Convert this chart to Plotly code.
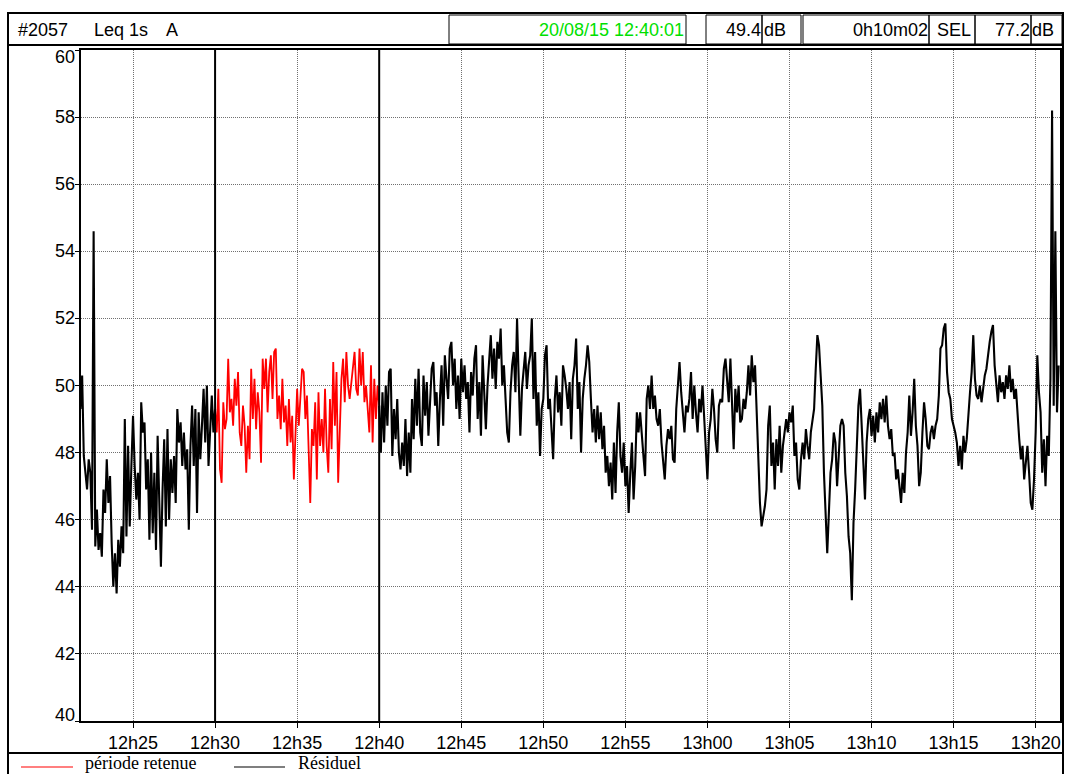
import pandas as pd
import plotly.graph_objects as go

W, H = 1065, 774

# Leq 1s A, one reading every 6 s
residuel_avant = [  # 12:21:48 -> 12:29:54
    49.3, 50.3, 47.9, 47.3, 46.9, 47.8, 47.4, 45.7, 54.6, 45.2,
    46.3, 45.1, 45.6, 44.9, 46.9, 46.2, 47.8, 46.5, 47.3, 45.3,
    44.0, 45.0, 43.8, 45.4, 44.6, 45.8, 45.0, 49.0, 45.5, 48.2,
    45.8, 47.6, 49.1, 47.6, 46.6, 47.4, 46.0, 49.5, 48.6, 48.9,
    46.9, 47.8, 45.4, 48.0, 45.6, 47.4, 45.1, 48.5, 46.2, 44.6,
    46.9, 48.4, 45.8, 48.7, 46.0, 47.8, 46.8, 47.9, 46.5, 49.3,
    48.3, 48.9, 47.6, 48.6, 47.5, 48.1, 45.7, 48.2, 49.4, 47.6,
    49.3, 46.2, 49.2, 47.8, 48.8, 49.9, 48.3, 50.0, 47.6, 48.7,
    49.7, 48.6,
]
periode_retenue = [  # 12:30:00 -> 12:40:00
    49.3, 48.6, 49.9, 47.5, 47.1, 49.5, 48.7, 49.0, 50.8, 49.2,
    49.6, 48.8, 50.2, 49.4, 50.4, 48.6, 48.2, 49.4, 48.8, 47.4,
    48.8, 47.8, 50.5, 49.0, 50.2, 48.7, 49.8, 49.2, 47.7, 50.8,
    49.9, 50.8, 49.2, 50.4, 50.9, 49.6, 51.0, 51.1, 49.0, 49.7,
    48.7, 50.2, 48.9, 49.4, 48.2, 49.6, 48.3, 49.1, 47.2, 48.5,
    49.9, 48.8, 49.9, 50.5, 50.4, 49.0, 49.7, 48.0, 46.5, 48.7,
    48.2, 49.5, 47.2, 49.8, 48.2, 49.0, 48.0, 49.9, 48.2, 47.4,
    49.6, 48.1, 50.7, 48.8, 50.4, 47.1, 49.1, 50.2, 50.8, 49.5,
    51.0, 50.0, 49.6, 50.1, 50.4, 51.0, 49.9, 49.7, 51.1, 50.0,
    51.0, 49.5, 50.0, 49.2, 48.6, 50.6, 48.3, 50.2, 49.0, 50.0,
    49.4,
]
residuel_apres = [  # 12:40:06 -> 13:21:24
    48.0, 49.8, 48.3, 50.0, 48.8, 50.4, 50.5, 47.9, 49.3, 48.4,
    49.6, 48.0, 47.5, 48.3, 47.6, 49.0, 47.3, 48.6,
    47.4, 49.6, 48.4, 50.2, 48.8, 50.5, 48.6, 48.2, 50.3, 49.1,
    50.1, 48.5, 49.6, 50.5, 50.7, 49.4, 49.8, 48.2, 49.6, 50.6,
    48.8, 50.9, 50.2, 49.6, 51.1, 51.3, 50.0, 50.8, 49.3, 50.3,
    49.0, 50.8, 49.8, 50.6, 49.6, 50.1, 48.6, 50.4, 49.7, 50.8,
    51.2, 49.0, 50.1, 48.5, 50.9, 49.6, 48.7, 50.0, 50.8, 51.5,
    50.2, 51.1, 49.9, 51.3, 50.8, 51.7, 50.0, 50.6, 49.6, 48.6,
    48.3, 49.8, 50.6, 51.0, 49.8, 52.0, 50.2, 48.5, 49.9, 50.6,
    51.0, 49.9, 50.6, 50.9, 52.0, 49.6, 51.0, 48.8, 49.8, 47.9,
    49.3, 49.6, 50.9, 51.2, 49.3, 49.6, 48.5, 47.8, 49.6, 50.3,
    49.2, 49.8, 48.8, 50.6, 50.3, 49.9, 49.3, 50.1, 48.4, 50.2,
    50.6, 51.4, 49.3, 50.1, 48.0, 49.6, 50.2, 50.6, 51.2, 50.7,
    49.6, 48.6, 49.3, 48.3, 49.4, 48.4, 49.2, 48.1, 48.8, 47.4,
    47.9, 47.0, 47.7, 46.6, 48.3, 46.8, 48.6, 49.5, 47.9, 47.4,
    48.3, 47.0, 47.6, 46.2, 47.4, 48.3, 46.6, 47.6, 49.2, 48.6,
    49.2, 48.4, 47.9, 47.3, 49.6, 50.0, 49.3, 50.3, 49.3, 49.7,
    49.0, 48.8, 49.3, 48.3, 47.8, 47.2, 48.2, 48.7, 48.4, 48.8,
    47.8, 47.7, 49.3, 50.1, 50.7, 49.8, 49.3, 48.6, 49.4, 49.2,
    49.6, 50.4, 49.0, 50.0, 49.2, 48.6, 49.6, 49.2, 50.0, 49.1,
    48.4, 47.2, 48.6, 49.0, 49.9, 49.3, 48.4, 48.0, 49.4, 49.6,
    49.5, 50.5, 50.8, 50.2,
    49.5, 50.8, 49.6, 48.1, 49.9, 49.2, 50.0, 48.9, 49.0, 49.6,
    49.3, 49.8, 50.6, 49.7, 50.9, 50.1, 50.6, 49.0, 47.8, 46.5,
    45.8, 46.1, 46.4, 46.9, 48.8, 49.4, 47.6, 48.3, 46.9, 48.4,
    47.6, 48.8, 47.4, 48.2, 48.6, 49.0, 48.6, 49.2, 48.9, 49.4,
    47.9, 48.3, 47.2, 46.9, 47.8, 48.3, 47.8, 48.7, 48.2, 47.8,
    48.6, 49.0, 49.3, 50.5, 51.5, 51.2, 50.3, 49.4, 47.4, 46.4,
    45.0, 46.2, 47.4, 47.8, 48.6, 48.3, 47.0, 47.9, 48.8, 49.0,
    48.8, 47.4, 46.7, 45.5, 45.0, 43.6, 45.9, 46.9, 48.2, 49.4,
    49.9, 48.8, 47.9, 46.6, 48.3, 49.0, 49.3, 48.5, 49.1, 48.3,
    49.2, 48.6, 49.5, 49.0, 49.6, 48.9, 49.7, 48.8, 48.4, 48.7,
    47.9, 48.0, 47.2, 47.5, 47.0, 46.5, 47.4, 46.8, 48.0, 48.6,
    49.7, 48.5, 49.2, 50.2, 48.8, 48.2, 47.0, 47.4, 48.6, 49.5,
    49.0, 48.2, 48.1, 48.6, 48.8, 48.4, 48.8, 49.0, 49.7, 51.1,
    51.2, 51.7, 51.85, 50.4, 49.8, 49.6, 49.0, 48.8, 48.6, 48.3,
    47.6, 48.2, 47.5, 48.5, 48.0, 48.4, 49.2, 49.8, 50.4, 51.5,
    50.2, 49.7, 49.6, 50.0, 49.5, 50.0, 50.3, 50.5, 51.0, 51.3,
    51.6, 51.8, 50.6, 49.9, 49.5, 50.3, 49.8, 50.1, 49.6, 50.3,
    49.9, 50.6, 49.8, 50.2, 49.6, 49.9, 49.0, 48.4, 47.8, 48.2,
    47.2, 47.8, 48.2, 47.4, 46.5, 46.3, 47.2,
    48.6, 50.9, 49.8, 49.2, 47.4, 48.4, 47.0, 48.5, 47.9, 50.2,
    58.2, 49.4, 54.6, 49.2, 50.6,
]

tick_labels = ["12h25", "12h30", "12h35", "12h40", "12h45", "12h50",
               "12h55", "13h00", "13h05", "13h10", "13h15", "13h20"]
y_ticks = [40, 42, 44, 46, 48, 50, 52, 54, 56, 58, 60]
marqueurs = ["12:30:00", "12:40:00"]

jour = "2015-08-20 "
t_avant = pd.date_range(jour + "12:21:48", periods=len(residuel_avant), freq="6s")
t_ret = pd.date_range(jour + "12:30:00", periods=len(periode_retenue), freq="6s")
t_apres = pd.date_range(jour + "12:40:06", periods=len(residuel_apres), freq="6s")
tick_vals = pd.date_range(jour + "12:25:00", periods=len(tick_labels), freq="5min")

fig = go.Figure()
fig.add_trace(go.Scatter(x=list(t_avant) + [t_ret[0]], y=residuel_avant + [periode_retenue[0]],
                         mode="lines", line=dict(color="black", width=2.1), name="Résiduel"))
fig.add_trace(go.Scatter(x=[t_ret[-1]] + list(t_apres), y=[periode_retenue[-1]] + residuel_apres,
                         mode="lines", line=dict(color="black", width=2.1), showlegend=False))
fig.add_trace(go.Scatter(x=t_ret, y=periode_retenue, mode="lines",
                         line=dict(color="#ff0000", width=1.8), name="période retenue"))


def fx(x):
    return x / W


def fy(y):
    return 1 - y / H


shapes = []
for m in marqueurs:
    shapes.append(dict(type="line", xref="x", yref="y domain", x0=jour + m, x1=jour + m,
                       y0=0, y1=1, line=dict(color="black", width=2)))


def rect(x0, y0, x1, y1, w=1):
    shapes.append(dict(type="rect", xref="paper", yref="paper", x0=fx(x0), x1=fx(x1),
                       y0=fy(y1), y1=fy(y0), line=dict(color="black", width=w)))


def hline(x0, x1, y, w=1):
    shapes.append(dict(type="line", xref="paper", yref="paper", x0=fx(x0), x1=fx(x1),
                       y0=fy(y), y1=fy(y), line=dict(color="black", width=w)))


def vline(x, y0, y1, w=1):
    shapes.append(dict(type="line", xref="paper", yref="paper", x0=fx(x), x1=fx(x),
                       y0=fy(y0), y1=fy(y1), line=dict(color="black", width=w)))


# cadre
rect(8, 13, 1063, 45, 2)
for a, b in [(449, 686), (706, 762), (762, 801), (803, 929), (929, 975), (975, 1031), (1031, 1062)]:
    rect(a, 15, b, 44)
vline(8, 45, 780, 2)
vline(1063, 45, 780, 2)
hline(8, 1063, 753, 2)
# légende
shapes.append(dict(type="line", xref="paper", yref="paper", x0=fx(21), x1=fx(73),
                   y0=fy(767), y1=fy(767), line=dict(color="#ff0000", width=1.2)))
shapes.append(dict(type="line", xref="paper", yref="paper", x0=fx(234), x1=fx(285),
                   y0=fy(767), y1=fy(767), line=dict(color="black", width=1.2)))

sans = "Liberation Sans, Arial, sans-serif"
serif = "Liberation Serif, Times New Roman, serif"
ann = []


def texte(s, x, y, anchor="left", color="black", font=sans, size=18):
    ann.append(dict(text=s, x=fx(x), y=fy(y), xref="paper", yref="paper", showarrow=False,
                    xanchor=anchor, yanchor="middle", font=dict(family=font, size=size, color=color)))


texte("#2057", 16, 30)
texte("Leq 1s", 92, 30)
texte("A", 164, 30)
texte("20/08/15 12:40:01", 686, 30, "right", "#00e000")
texte("49.4", 763, 30, "right")
texte("dB", 762, 30)
texte("0h10m02", 930, 30, "right")
texte("SEL", 935, 30)
texte("77.2", 1032, 30, "right")
texte("dB", 1030, 30)
texte("période retenue", 83, 763, font=serif)
texte("Résiduel", 296, 763, font=serif)

for v in y_ticks:
    shift = -7 if v == 60 else (6 if v == 40 else 0)
    ann.append(dict(text=str(v), x=fx(77), y=v, xref="paper", yref="y", showarrow=False,
                    xanchor="right", yanchor="middle", yshift=shift,
                    font=dict(family=sans, size=18, color="black")))

fig.update_layout(
    width=W, height=H,
    margin=dict(l=0, r=0, t=0, b=0),
    paper_bgcolor="white", plot_bgcolor="white",
    showlegend=False,
    shapes=shapes, annotations=ann,
    xaxis=dict(domain=[fx(80.5), fx(1060)], range=[jour + "12:21:48", jour + "13:21:29"],
               tickvals=tick_vals, ticktext=tick_labels, ticks="outside", ticklen=5,
               tickcolor="black", showline=True, mirror=True, linecolor="black", linewidth=1.5,
               showgrid=True, gridcolor="#707070", griddash="1px,1px", gridwidth=1,
               tickfont=dict(family=sans, size=18, color="black"), zeroline=False),
    yaxis=dict(domain=[fy(721), fy(50)], range=[40, 60], tickvals=y_ticks,
               showticklabels=False, ticks="outside", ticklen=4, tickcolor="black",
               showline=True, mirror=True, linecolor="black", linewidth=1.5,
               showgrid=True, gridcolor="#707070", griddash="1px,1px", gridwidth=1, zeroline=False),
)

fig.write_html("out.html", config={"displayModeBar": False},
               post_script="document.body.style.margin='0px';"
                           "document.body.style.overflow='hidden';")
